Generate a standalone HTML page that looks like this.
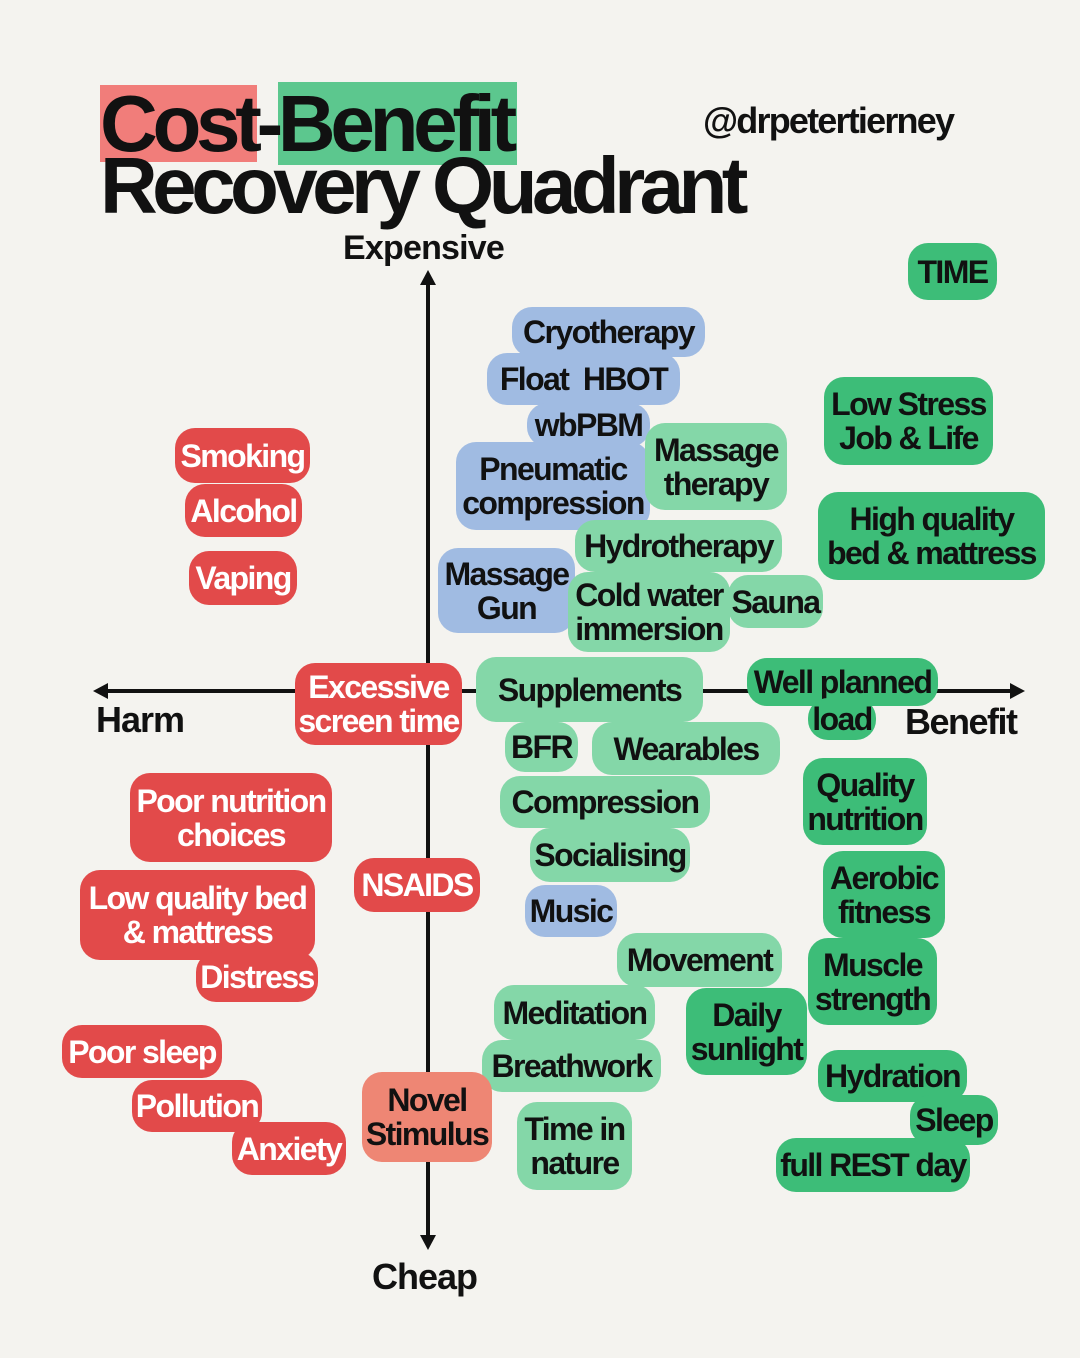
<!DOCTYPE html>
<html><head><meta charset="utf-8"><style>
*{margin:0;padding:0;box-sizing:border-box}
body{width:1080px;height:1358px;background:#f4f3ef;position:relative;overflow:hidden;font-family:"Liberation Sans",Arial,sans-serif;font-weight:bold;color:#111}
.t{position:absolute;white-space:nowrap}
.b{position:absolute;display:flex;align-items:center;justify-content:center;text-align:center;border-radius:20px;font-size:32px;letter-spacing:-1.6px;line-height:34px;white-space:nowrap;color:#111}
.r{background:#e24a4a;color:#fff}
.g{background:#84d7a8}
.d{background:#3dbd78}
.u{background:#a0bbe2}
.s{background:#ee8674}
</style></head><body>
<div style="position:absolute;left:100px;top:85px;width:157px;height:77px;background:#f17d7a"></div>
<div style="position:absolute;left:278px;top:82px;width:239px;height:83px;background:#5cc78e"></div>
<div class="t" style="left:100px;top:84px;font-size:80px;letter-spacing:-5.3px;line-height:80px">Cost-Benefit</div>
<div class="t" style="left:100px;top:146px;font-size:80px;letter-spacing:-5.6px;line-height:80px">Recovery Quadrant</div>
<div class="t" style="left:703px;top:100px;font-size:36px;letter-spacing:-1.8px">@drpetertierney</div>
<div class="t" style="left:343px;top:229px;font-size:34px;letter-spacing:-0.8px">Expensive</div>
<div class="t" style="left:96px;top:699px;font-size:36px;letter-spacing:-1px">Harm</div>
<div class="t" style="left:372px;top:1256px;font-size:36px;letter-spacing:-1px">Cheap</div>
<svg style="position:absolute;left:0;top:0" width="1080" height="1358">
<line x1="428" y1="280" x2="428" y2="1240" stroke="#111" stroke-width="4"/>
<polygon points="428,270 420,285 436,285" fill="#111"/>
<polygon points="428,1250 420,1235 436,1235" fill="#111"/>
<line x1="103" y1="691" x2="1015" y2="691" stroke="#111" stroke-width="4"/>
<polygon points="93,691 108,683 108,699" fill="#111"/>
<polygon points="1025,691 1010,683 1010,699" fill="#111"/>
</svg>
<div class="b d" style="left:908px;top:243px;width:89px;height:57px">TIME</div>
<div class="b u" style="left:512px;top:307px;width:193px;height:50px">Cryotherapy</div>
<div class="b u" style="left:487px;top:353px;width:193px;height:52px">Float&nbsp;&nbsp;HBOT</div>
<div class="b u" style="left:527px;top:403px;width:123px;height:44px">wbPBM</div>
<div class="b u" style="left:456px;top:442px;width:194px;height:88px">Pneumatic<br>compression</div>
<div class="b g" style="left:645px;top:423px;width:142px;height:87px">Massage<br>therapy</div>
<div class="b d" style="left:824px;top:377px;width:169px;height:88px">Low Stress<br>Job &amp; Life</div>
<div class="b d" style="left:818px;top:492px;width:227px;height:88px">High quality<br>bed &amp; mattress</div>
<div class="b g" style="left:575px;top:520px;width:207px;height:52px">Hydrotherapy</div>
<div class="b u" style="left:438px;top:548px;width:137px;height:85px">Massage<br>Gun</div>
<div class="b g" style="left:568px;top:572px;width:162px;height:80px">Cold water<br>immersion</div>
<div class="b g" style="left:728px;top:575px;width:95px;height:53px">Sauna</div>
<div class="b r" style="left:175px;top:428px;width:135px;height:55px">Smoking</div>
<div class="b r" style="left:185px;top:484px;width:117px;height:53px">Alcohol</div>
<div class="b r" style="left:189px;top:551px;width:108px;height:54px">Vaping</div>
<div class="b r" style="left:295px;top:663px;width:167px;height:82px">Excessive<br>screen time</div>
<div class="b g" style="left:476px;top:657px;width:227px;height:65px">Supplements</div>
<div class="b d" style="left:747px;top:658px;width:191px;height:48px">Well planned</div>
<div class="b d" style="left:808px;top:698px;width:68px;height:42px">load</div>
<div class="t" style="left:905px;top:701px;font-size:36px;letter-spacing:-1.5px">Benefit</div>
<div class="b g" style="left:505px;top:722px;width:73px;height:50px">BFR</div>
<div class="b g" style="left:592px;top:722px;width:188px;height:53px">Wearables</div>
<div class="b g" style="left:500px;top:776px;width:210px;height:52px">Compression</div>
<div class="b g" style="left:530px;top:828px;width:160px;height:54px">Socialising</div>
<div class="b u" style="left:525px;top:885px;width:92px;height:52px">Music</div>
<div class="b d" style="left:803px;top:758px;width:124px;height:87px">Quality<br>nutrition</div>
<div class="b d" style="left:823px;top:851px;width:122px;height:87px">Aerobic<br>fitness</div>
<div class="b d" style="left:808px;top:938px;width:129px;height:87px">Muscle<br>strength</div>
<div class="b g" style="left:617px;top:933px;width:165px;height:54px">Movement</div>
<div class="b g" style="left:494px;top:985px;width:161px;height:55px">Meditation</div>
<div class="b g" style="left:482px;top:1040px;width:179px;height:52px">Breathwork</div>
<div class="b d" style="left:686px;top:988px;width:121px;height:87px">Daily<br>sunlight</div>
<div class="b d" style="left:818px;top:1050px;width:149px;height:52px">Hydration</div>
<div class="b d" style="left:910px;top:1095px;width:88px;height:50px">Sleep</div>
<div class="b d" style="left:776px;top:1138px;width:194px;height:54px">full REST day</div>
<div class="b g" style="left:517px;top:1102px;width:115px;height:88px">Time in<br>nature</div>
<div class="b r" style="left:130px;top:773px;width:202px;height:89px">Poor nutrition<br>choices</div>
<div class="b r" style="left:80px;top:870px;width:235px;height:90px">Low quality bed<br>&amp; mattress</div>
<div class="b r" style="left:196px;top:952px;width:122px;height:50px">Distress</div>
<div class="b r" style="left:354px;top:858px;width:126px;height:54px">NSAIDS</div>
<div class="b r" style="left:62px;top:1025px;width:160px;height:53px">Poor sleep</div>
<div class="b r" style="left:132px;top:1080px;width:130px;height:52px">Pollution</div>
<div class="b r" style="left:232px;top:1122px;width:114px;height:53px">Anxiety</div>
<div class="b s" style="left:362px;top:1072px;width:130px;height:90px">Novel<br>Stimulus</div>
</body></html>
